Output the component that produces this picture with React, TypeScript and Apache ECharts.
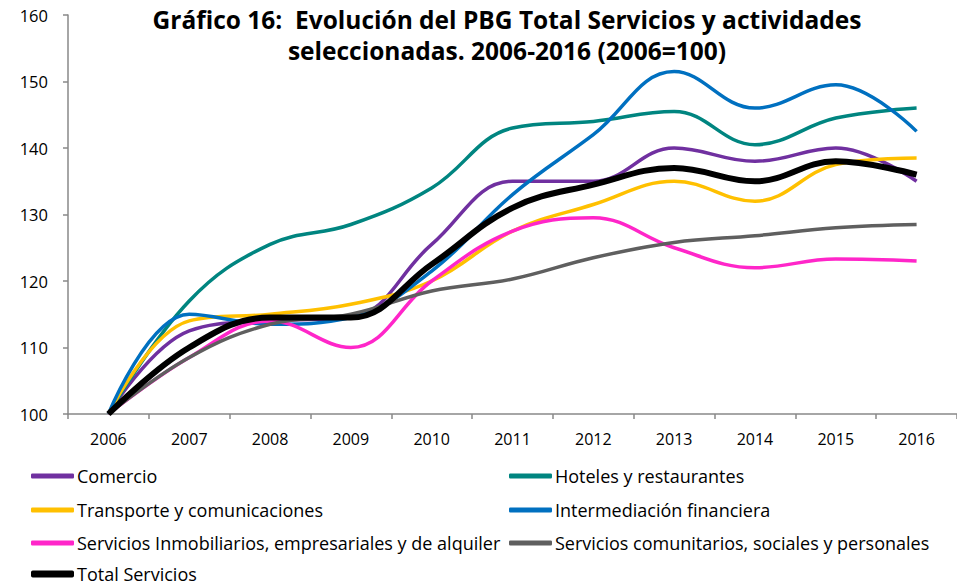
import React, { useEffect, useRef } from "react";
import * as echarts from "echarts";

const years = ["2006", "2007", "2008", "2009", "2010", "2011", "2012", "2013", "2014", "2015", "2016"];

const comercio = [100, 112.5, 114, 114.5, 125.5, 135, 135, 140, 138, 140, 135];
const hoteles = [100, 117, 125.5, 128.5, 134, 143, 144, 145.5, 140.5, 144.5, 146];
const transporte = [100, 114, 115, 116.5, 120, 127.5, 131.5, 135, 132, 137.5, 138.5];
const intermediacion = [100, 115, 113.5, 114.5, 121.5, 133, 142, 151.5, 146, 149.5, 142.5];
const inmobiliarios = [100, 108.5, 114, 110, 120, 127.5, 129.5, 125, 122, 123.3, 123];
const comunitarios = [100, 108.5, 113.5, 115, 118.5, 120.3, 123.5, 125.8, 126.8, 128, 128.5];
const total = [100, 110, 114.5, 114.5, 122.5, 131, 134.5, 137, 135, 138, 136];

const names = [
  "Comercio",
  "Hoteles y restaurantes",
  "Transporte y comunicaciones",
  "Intermediación financiera",
  "Servicios Inmobiliarios, empresariales y de alquiler",
  "Servicios comunitarios, sociales y personales",
  "Total Servicios",
];
const seriesData = [comercio, hoteles, transporte, intermediacion, inmobiliarios, comunitarios, total];
const colors = ["#7030A0", "#008580", "#FFC000", "#0070C0", "#FF26C9", "#5F5F5F", "#000000"];
const widths = [3.5, 3.5, 3.5, 3.5, 3.5, 3.5, 6];

// legend placement: [left, top] per series
const legendPos: [number, number][] = [
  [31, 466],
  [509, 466],
  [31, 500],
  [509, 500],
  [31, 533],
  [509, 533],
  [31, 564],
];

const yMin = 100;
const yMax = 160;
const yStep = 10;

export default function App() {
  const ref = useRef<HTMLDivElement>(null);
  useEffect(() => {
    document.body.style.margin = "0";
    const chart = echarts.init(ref.current!, undefined, { renderer: "svg" });
    const font = "'Open Sans', Lato, sans-serif";
    chart.setOption({
      animation: false,
      backgroundColor: "#fff",
      title: {
        text: "Gráfico 16:  Evolución del PBG Total Servicios y actividades\nseleccionadas. 2006-2016 (2006=100)",
        left: 502,
        textAlign: "center",
        top: -1,
        textStyle: { fontFamily: font, fontSize: 24.5, fontWeight: "bold", color: "#000", lineHeight: 31 },
      },
      grid: { left: 68, right: -6, top: 15, bottom: 172, containLabel: false },
      xAxis: {
        type: "category",
        data: years,
        boundaryGap: true,
        axisLine: { lineStyle: { color: "#888", width: 1.5 } },
        axisTick: { show: true, length: 5, lineStyle: { color: "#888", width: 1.5 } },
        axisLabel: { fontFamily: font, fontSize: 16, color: "#000", margin: 17 },
        splitLine: { show: false },
      },
      yAxis: {
        type: "value",
        min: yMin,
        max: yMax,
        interval: yStep,
        axisLine: { show: true, lineStyle: { color: "#888", width: 1.5 } },
        axisTick: { show: true, length: 5, lineStyle: { color: "#888", width: 1.5 } },
        axisLabel: { fontFamily: font, fontSize: 16.5, color: "#000", margin: 20 },
        splitLine: { show: false },
      },
      legend: names.map((n, i) => ({
        orient: "horizontal",
        left: legendPos[i][0],
        top: legendPos[i][1],
        itemWidth: 43,
        itemHeight: i === 6 ? 7 : 5,
        icon: "roundRect",
        padding: 0,
        textStyle: { fontFamily: font, fontSize: 18, color: "#000", lineHeight: 20, padding: [0, 0, 0, -2] },
        data: [n],
      })),
      series: names.map((n, i) => ({
        name: n,
        type: "line",
        data: seriesData[i],
        smooth: 0.4,
        symbol: "none",
        color: colors[i],
        lineStyle: { color: colors[i], width: widths[i] },
        z: i + 2,
      })),
    });
    return () => chart.dispose();
  }, []);
  return <div ref={ref} style={{ width: 957, height: 586 }} />;
}
